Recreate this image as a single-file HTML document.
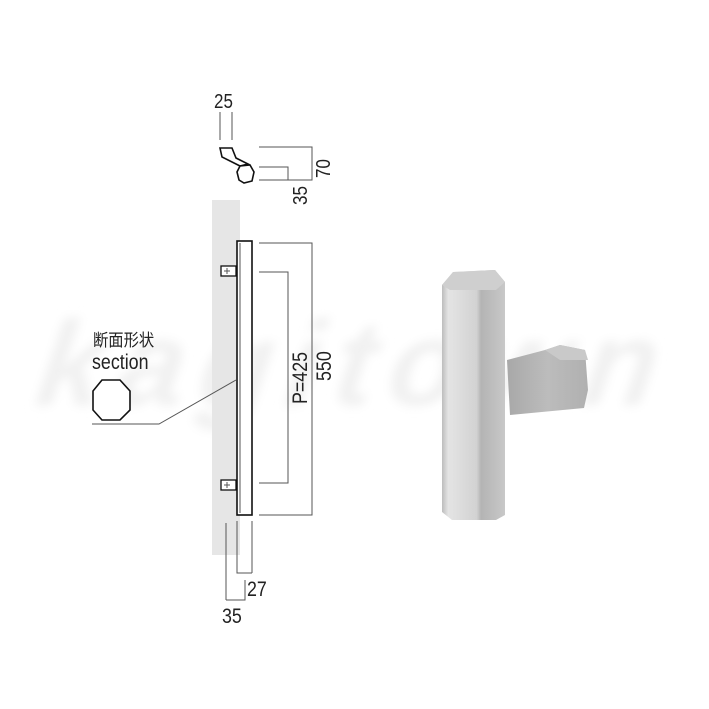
<!DOCTYPE html>
<html><head><meta charset="utf-8"><style>
html,body{margin:0;padding:0;background:#fff;}
svg{display:block;}
text{font-family:"Liberation Sans","Noto Sans CJK JP",sans-serif;fill:#222;}
</style></head><body>
<svg width="709" height="709" viewBox="0 0 709 709" xmlns="http://www.w3.org/2000/svg">
<defs>
<linearGradient id="bar" x1="0" x2="1" y1="0" y2="0">
<stop offset="0" stop-color="#bdbdbd"/><stop offset="0.1" stop-color="#e4e4e4"/><stop offset="0.55" stop-color="#d2d2d2"/><stop offset="0.62" stop-color="#b4b4b4"/><stop offset="1" stop-color="#c8c8c8"/>
</linearGradient>
<linearGradient id="brk" x1="0" x2="1" y1="0" y2="0">
<stop offset="0" stop-color="#a8a8a8"/><stop offset="0.5" stop-color="#bcbcbc"/><stop offset="1" stop-color="#b0b0b0"/>
</linearGradient>
<filter id="sh" x="-20%" y="-20%" width="140%" height="140%"><feGaussianBlur stdDeviation="5"/></filter>
</defs>

<!-- watermark shadow -->
<g font-style="italic" font-weight="bold" font-size="120" transform="skewX(-8)">
<text x="90" y="405" style="fill:#f1f1f1" filter="url(#sh)" textLength="620">kagitown</text>
</g>

<!-- wall -->
<rect x="212" y="200" width="28" height="355" fill="#e6e6e6"/>

<!-- top view -->
<text transform="translate(214,108) scale(0.85,1)" font-size="20">25</text>
<g stroke="#555" stroke-width="1" fill="none">
<line x1="220" y1="112" x2="220" y2="140"/><line x1="232" y1="112" x2="232" y2="140"/>
<polyline points="259,147 312,147 312,180 259,180"/>
<polyline points="259,167 288,167 288,180"/>
</g>
<g stroke="#111" stroke-width="1.6" fill="#fff">
<polygon points="220,148 232,148 236,158 248,164 240,166 222,157"/>
<polygon points="240,166 250,165 254,172 252,181 244,183 239,180 237,172"/>
</g>
<text transform="translate(330,178) rotate(-90) scale(0.85,1)" font-size="20">70</text>
<text transform="translate(307,205) rotate(-90) scale(0.85,1)" font-size="20">35</text>

<!-- bar -->
<rect x="237" y="241" width="15" height="274" fill="#fff" stroke="#111" stroke-width="1.6"/>
<line x1="240" y1="243" x2="240" y2="513" stroke="#555"/>
<g stroke="#111" stroke-width="1.3" fill="#fff">
<rect x="221" y="266" width="15" height="10"/><rect x="221" y="480" width="15" height="10"/>
</g>
<g stroke="#555" stroke-width="1" fill="none">
<line x1="224" y1="271" x2="230" y2="271"/><line x1="227" y1="268" x2="227" y2="274"/>
<line x1="224" y1="485" x2="230" y2="485"/><line x1="227" y1="482" x2="227" y2="488"/>
<polyline points="259,243 312,243 312,515 259,515"/>
<polyline points="259,272 288,272 288,483 259,483"/>
<line x1="226" y1="523" x2="226" y2="600"/>
<polyline points="237,521 237,573 252,573"/>
<line x1="252" y1="521" x2="252" y2="573"/>
<polyline points="226,600 245,600 245,580"/>
<polyline points="92,424 159,424 236,380"/>
</g>
<text transform="translate(307,404) rotate(-90) scale(0.85,1)" font-size="21">P=425</text>
<text transform="translate(331,381) rotate(-90) scale(0.85,1)" font-size="21">550</text>
<text transform="translate(247,596) scale(0.85,1)" font-size="21">27</text>
<text transform="translate(222,623) scale(0.85,1)" font-size="21">35</text>

<!-- section -->
<text transform="translate(93,346) scale(0.9,1)" font-size="17">断面形状</text>
<text transform="translate(92,369) scale(0.85,1)" font-size="21">section</text>
<polygon points="102,380 120,380 130,391 130,410 120,420 102,420 93,410 93,391" fill="#fff" stroke="#111" stroke-width="1.6"/>

<!-- photo -->
<path d="M507,360 L545,350 L560,345 L585,350 L588,390 L584,408 L510,415 Z" fill="url(#brk)"/>
<path d="M545,350 L560,345 L585,350 L588,360 L560,360 Z" fill="#c9c9c9"/>
<path d="M442,285 L453,272 L495,270 L505,282 L505,515 L496,520 L452,520 L442,512 Z" fill="url(#bar)"/>
<path d="M442,285 L453,272 L495,270 L505,282 L496,290 L450,290 Z" fill="#cfcfcf"/>
</svg>
</body></html>
